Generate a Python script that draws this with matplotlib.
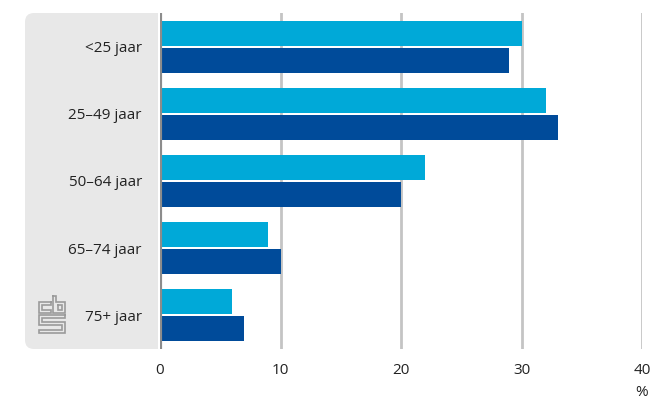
import matplotlib
matplotlib.use("Agg")
import numpy as np
from matplotlib import pyplot as plt
from matplotlib.patches import FancyBboxPatch

categories = ["<25 jaar", "25\u201349 jaar", "50\u201364 jaar", "65\u201374 jaar", "75+ jaar"]
series_light = [30, 32, 22, 9, 6]
series_dark = [29, 33, 20, 10, 7]
x_ticks = [0, 10, 20, 30, 40]

LIGHT = "#00a9d8"
DARK = "#004b9a"
PANEL = "#e8e8e8"

plt.rcParams["font.family"] = ["Open Sans", "DejaVu Sans"]

W, H = 651, 403
fig = plt.figure(figsize=(W / 100, H / 100), dpi=100)

# pixel overlay for the grey label panel and the logo
bg = fig.add_axes([0, 0, 1, 1], zorder=0)
bg.set_xlim(0, W)
bg.set_ylim(H, 0)
bg.axis("off")
bg.add_patch(FancyBboxPatch((25, 13), 133, 336, boxstyle="round,pad=0,rounding_size=9",
                            facecolor=PANEL, edgecolor="none"))
bg.add_patch(plt.Rectangle((145, 13), 13, 336, facecolor=PANEL, edgecolor="none"))

# simplified cbs logo (outlined shapes)
logo = "#9a9a9a"
segs = [
    # c
    [(51, 302), (39, 302), (39, 313), (51, 313), (51, 310), (42, 310), (42, 305), (51, 305), (51, 302)],
    # b
    [(53, 296), (56, 296), (56, 302), (65, 302), (65, 313), (53, 313), (53, 296)],
    [(57.5, 305), (62, 305), (62, 310), (57.5, 310), (57.5, 305)],
    # s
    [(65, 315), (39, 315), (39, 325), (62, 325), (62, 330), (39, 330), (39, 333), (65, 333),
     (65, 322), (42, 322), (42, 318), (65, 318), (65, 315)],
]
for s in segs:
    xs, ys = zip(*s)
    bg.plot(xs, ys, color=logo, linewidth=1.2, solid_joinstyle="miter")

ax = fig.add_axes([160 / W, 1 - 349 / H, (642 - 160) / W, 336 / H], zorder=1)
ax.patch.set_alpha(0)

pos = np.arange(len(categories))
h = 0.372
off = 0.2
ax.barh(pos - off, series_light, height=h, color=LIGHT, zorder=3)
ax.barh(pos + off, series_dark, height=h, color=DARK, zorder=3)

ax.set_ylim(len(categories) - 0.5, -0.5)
ax.set_xlim(0, 40)
ax.set_yticks(pos)
ax.set_yticklabels(categories, fontsize=11, color="#222222")
ax.set_xticks(x_ticks)
ax.set_xticklabels([str(t) for t in x_ticks], fontsize=11, color="#222222")
ax.tick_params(axis="y", length=0, pad=13)
ax.tick_params(axis="x", length=0, pad=10)

for t in x_ticks[1:]:
    ax.axvline(t, color="#c4c4c4", linewidth=2, zorder=1)
ax.axvline(0, color="#8c8c8c", linewidth=3, zorder=4)

for sp in ax.spines.values():
    sp.set_visible(False)

fig.text(642 / W, 1 - 393 / H, "%", fontsize=11, color="#222222", ha="center", va="center")

fig.savefig("out.png", dpi=100)
